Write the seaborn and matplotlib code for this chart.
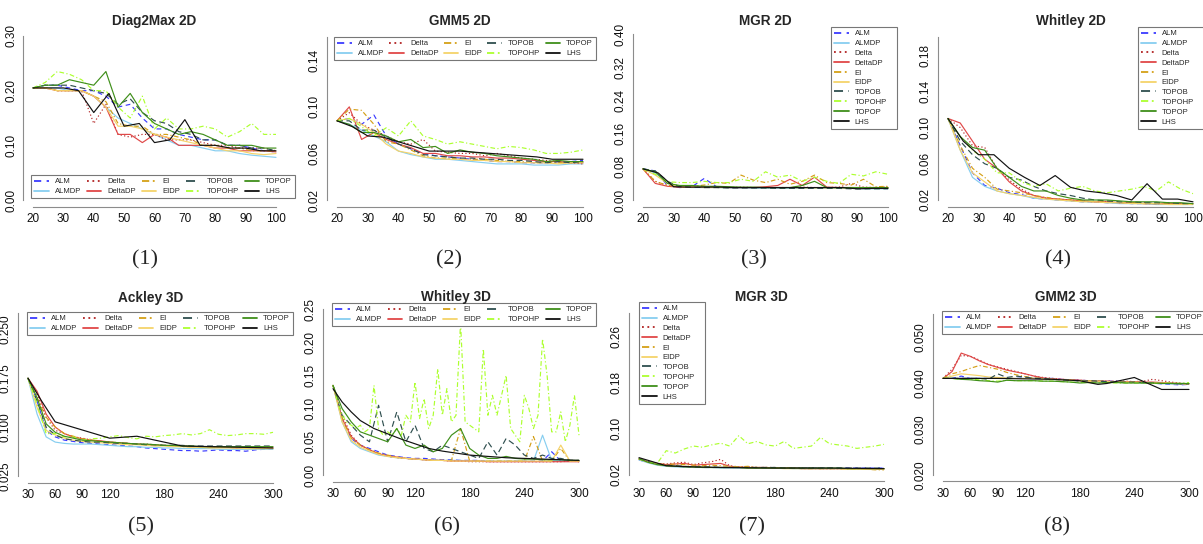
import pandas as pd
import seaborn as sns
import matplotlib
matplotlib.use("Agg")
import matplotlib.pyplot as plt
from matplotlib.lines import Line2D

# ---- series order / style (as in the R legends) ----
methods = ["ALM", "ALMDP", "Delta", "DeltaDP", "EI", "EIDP",
           "TOPOB", "TOPOHP", "TOPOP", "LHS"]
colors = {"ALM": "#3b3bff", "ALMDP": "#87cef0", "Delta": "#b22222",
          "DeltaDP": "#e04848", "EI": "#d4a017", "EIDP": "#f5d36a",
          "TOPOB": "#2f4f4f", "TOPOHP": "#adff2f", "TOPOP": "#3f8f1a",
          "LHS": "#111111"}
dashes = {"ALM": (4, 3), "ALMDP": "", "Delta": (1, 2), "DeltaDP": "",
          "EI": (4, 2, 1, 2), "EIDP": "", "TOPOB": (5, 3),
          "TOPOHP": (4, 2, 1, 2), "TOPOP": "", "LHS": ""}

# ---- x grids ----
x_2d = list(range(20, 101, 4))
x_2d_lhs = list(range(20, 101, 5))
x_3d = list(range(30, 301, 10))

# ---- (1) Diag2Max 2D ----
diag2max_2d = {
    "ALM": [0.205, 0.21, 0.21, 0.205, 0.20, 0.20, 0.19, 0.17, 0.175, 0.15, 0.13, 0.13, 0.12, 0.115, 0.11, 0.11, 0.10, 0.10, 0.095, 0.09, 0.088],
    "ALMDP": [0.205, 0.205, 0.205, 0.20, 0.20, 0.19, 0.17, 0.15, 0.14, 0.13, 0.12, 0.11, 0.10, 0.10, 0.095, 0.09, 0.09, 0.085, 0.082, 0.08, 0.078],
    "Delta": [0.205, 0.205, 0.20, 0.20, 0.20, 0.14, 0.175, 0.12, 0.115, 0.12, 0.12, 0.11, 0.11, 0.11, 0.105, 0.10, 0.10, 0.095, 0.095, 0.095, 0.09],
    "DeltaDP": [0.205, 0.205, 0.20, 0.20, 0.20, 0.19, 0.17, 0.12, 0.12, 0.105, 0.12, 0.115, 0.10, 0.10, 0.10, 0.095, 0.095, 0.09, 0.09, 0.09, 0.088],
    "EI": [0.205, 0.205, 0.20, 0.20, 0.20, 0.19, 0.18, 0.14, 0.135, 0.135, 0.12, 0.12, 0.115, 0.11, 0.10, 0.10, 0.095, 0.095, 0.09, 0.09, 0.09],
    "EIDP": [0.205, 0.205, 0.20, 0.20, 0.20, 0.19, 0.17, 0.135, 0.135, 0.13, 0.12, 0.115, 0.11, 0.105, 0.10, 0.095, 0.09, 0.09, 0.085, 0.083, 0.085],
    "TOPOB": [0.205, 0.21, 0.21, 0.21, 0.205, 0.20, 0.195, 0.175, 0.185, 0.16, 0.145, 0.14, 0.125, 0.12, 0.11, 0.11, 0.10, 0.10, 0.095, 0.095, 0.09],
    "TOPOHP": [0.205, 0.215, 0.235, 0.23, 0.22, 0.20, 0.20, 0.17, 0.15, 0.19, 0.13, 0.15, 0.13, 0.13, 0.135, 0.13, 0.115, 0.125, 0.14, 0.12, 0.12],
    "TOPOP": [0.205, 0.21, 0.21, 0.22, 0.215, 0.21, 0.235, 0.17, 0.195, 0.16, 0.14, 0.13, 0.12, 0.125, 0.12, 0.11, 0.10, 0.10, 0.10, 0.095, 0.095],
    "LHS": [0.205, 0.205, 0.205, 0.20, 0.16, 0.195, 0.135, 0.14, 0.105, 0.11, 0.147, 0.10, 0.10, 0.095, 0.095, 0.09, 0.09],
}

# ---- (2) GMM5 2D ----
gmm5_2d = {
    "ALM": [0.088, 0.09, 0.085, 0.093, 0.075, 0.068, 0.064, 0.06, 0.058, 0.057, 0.056, 0.055, 0.054, 0.053, 0.053, 0.052, 0.052, 0.052, 0.053, 0.053, 0.054],
    "ALMDP": [0.088, 0.085, 0.08, 0.075, 0.07, 0.062, 0.059, 0.057, 0.055, 0.055, 0.054, 0.053, 0.052, 0.051, 0.051, 0.051, 0.050, 0.050, 0.050, 0.051, 0.051],
    "Delta": [0.088, 0.095, 0.085, 0.08, 0.075, 0.07, 0.068, 0.072, 0.062, 0.061, 0.06, 0.06, 0.058, 0.06, 0.058, 0.056, 0.055, 0.054, 0.053, 0.052, 0.051],
    "DeltaDP": [0.088, 0.10, 0.072, 0.078, 0.072, 0.068, 0.065, 0.06, 0.06, 0.058, 0.058, 0.057, 0.057, 0.056, 0.056, 0.055, 0.054, 0.053, 0.053, 0.052, 0.052],
    "EI": [0.088, 0.098, 0.097, 0.085, 0.07, 0.068, 0.063, 0.058, 0.056, 0.056, 0.055, 0.055, 0.055, 0.054, 0.053, 0.053, 0.052, 0.052, 0.052, 0.052, 0.053],
    "EIDP": [0.088, 0.09, 0.085, 0.078, 0.068, 0.062, 0.06, 0.057, 0.056, 0.055, 0.055, 0.054, 0.054, 0.053, 0.053, 0.052, 0.052, 0.052, 0.051, 0.052, 0.052],
    "TOPOB": [0.088, 0.088, 0.08, 0.08, 0.074, 0.068, 0.064, 0.059, 0.058, 0.057, 0.056, 0.056, 0.055, 0.055, 0.054, 0.054, 0.053, 0.052, 0.053, 0.052, 0.053],
    "TOPOHP": [0.088, 0.09, 0.083, 0.075, 0.082, 0.075, 0.088, 0.075, 0.072, 0.068, 0.07, 0.068, 0.066, 0.064, 0.066, 0.065, 0.063, 0.06, 0.06, 0.061, 0.063],
    "TOPOP": [0.088, 0.085, 0.078, 0.078, 0.075, 0.07, 0.072, 0.065, 0.066, 0.06, 0.063, 0.061, 0.06, 0.058, 0.057, 0.056, 0.055, 0.053, 0.054, 0.053, 0.053],
    "LHS": [0.088, 0.083, 0.075, 0.074, 0.07, 0.066, 0.062, 0.062, 0.062, 0.061, 0.06, 0.059, 0.058, 0.057, 0.055, 0.055, 0.055],
}

# ---- (3) MGR 2D ----
mgr_2d = {
    "ALM": [0.075, 0.07, 0.035, 0.03, 0.032, 0.052, 0.032, 0.03, 0.03, 0.03, 0.03, 0.029, 0.029, 0.029, 0.029, 0.029, 0.029, 0.028, 0.028, 0.028, 0.028],
    "ALMDP": [0.075, 0.065, 0.04, 0.032, 0.03, 0.03, 0.03, 0.029, 0.029, 0.028, 0.028, 0.028, 0.028, 0.028, 0.028, 0.028, 0.028, 0.028, 0.027, 0.027, 0.027],
    "Delta": [0.075, 0.045, 0.035, 0.031, 0.031, 0.032, 0.031, 0.03, 0.031, 0.03, 0.03, 0.03, 0.03, 0.031, 0.03, 0.03, 0.031, 0.04, 0.031, 0.03, 0.031],
    "DeltaDP": [0.075, 0.04, 0.033, 0.031, 0.031, 0.031, 0.031, 0.03, 0.03, 0.03, 0.032, 0.035, 0.05, 0.035, 0.055, 0.031, 0.03, 0.03, 0.03, 0.03, 0.03],
    "EI": [0.075, 0.045, 0.035, 0.032, 0.033, 0.036, 0.042, 0.04, 0.06, 0.048, 0.042, 0.05, 0.038, 0.045, 0.06, 0.042, 0.04, 0.036, 0.05, 0.032, 0.033],
    "EIDP": [0.075, 0.06, 0.04, 0.032, 0.031, 0.03, 0.03, 0.03, 0.03, 0.03, 0.03, 0.03, 0.03, 0.029, 0.029, 0.029, 0.029, 0.029, 0.029, 0.029, 0.029],
    "TOPOB": [0.075, 0.07, 0.045, 0.032, 0.031, 0.03, 0.03, 0.029, 0.029, 0.029, 0.029, 0.028, 0.028, 0.028, 0.028, 0.028, 0.028, 0.027, 0.027, 0.027, 0.027],
    "TOPOHP": [0.075, 0.062, 0.044, 0.042, 0.042, 0.045, 0.042, 0.042, 0.05, 0.045, 0.068, 0.055, 0.06, 0.045, 0.055, 0.045, 0.04, 0.062, 0.058, 0.068, 0.062],
    "TOPOP": [0.075, 0.068, 0.04, 0.035, 0.035, 0.033, 0.033, 0.032, 0.031, 0.031, 0.03, 0.03, 0.03, 0.035, 0.045, 0.03, 0.03, 0.03, 0.03, 0.03, 0.03],
    "LHS": [0.075, 0.065, 0.032, 0.031, 0.031, 0.031, 0.03, 0.03, 0.03, 0.03, 0.03, 0.03, 0.03, 0.03, 0.027, 0.028, 0.028],
}

# ---- (4) Whitley 2D ----
whitley_2d = {
    "ALM": [0.11, 0.08, 0.05, 0.036, 0.033, 0.028, 0.026, 0.022, 0.021, 0.02, 0.019, 0.018, 0.018, 0.017, 0.017, 0.016, 0.016, 0.016, 0.016, 0.016, 0.015],
    "ALMDP": [0.11, 0.075, 0.045, 0.035, 0.03, 0.027, 0.025, 0.022, 0.021, 0.02, 0.019, 0.018, 0.018, 0.017, 0.016, 0.016, 0.016, 0.015, 0.015, 0.015, 0.015],
    "Delta": [0.11, 0.10, 0.08, 0.078, 0.055, 0.042, 0.032, 0.025, 0.022, 0.021, 0.02, 0.019, 0.018, 0.018, 0.017, 0.017, 0.017, 0.016, 0.016, 0.016, 0.016],
    "DeltaDP": [0.11, 0.105, 0.085, 0.065, 0.055, 0.04, 0.03, 0.025, 0.022, 0.021, 0.02, 0.019, 0.018, 0.018, 0.017, 0.017, 0.016, 0.016, 0.016, 0.016, 0.016],
    "EI": [0.11, 0.08, 0.055, 0.045, 0.032, 0.03, 0.028, 0.025, 0.023, 0.021, 0.02, 0.019, 0.018, 0.018, 0.017, 0.017, 0.016, 0.016, 0.016, 0.016, 0.016],
    "EIDP": [0.11, 0.075, 0.05, 0.04, 0.03, 0.027, 0.025, 0.023, 0.021, 0.02, 0.019, 0.018, 0.018, 0.017, 0.017, 0.016, 0.016, 0.016, 0.015, 0.015, 0.015],
    "TOPOB": [0.11, 0.085, 0.07, 0.06, 0.055, 0.045, 0.042, 0.035, 0.03, 0.027, 0.025, 0.022, 0.02, 0.019, 0.018, 0.018, 0.017, 0.017, 0.017, 0.016, 0.016],
    "TOPOHP": [0.11, 0.09, 0.075, 0.065, 0.05, 0.05, 0.04, 0.035, 0.038, 0.03, 0.033, 0.035, 0.03, 0.028, 0.03, 0.032, 0.035, 0.03, 0.04, 0.032, 0.027],
    "TOPOP": [0.11, 0.09, 0.078, 0.075, 0.055, 0.045, 0.035, 0.03, 0.03, 0.025, 0.022, 0.02, 0.02, 0.02, 0.019, 0.018, 0.018, 0.018, 0.017, 0.017, 0.016],
    "LHS": [0.11, 0.085, 0.07, 0.07, 0.055, 0.045, 0.036, 0.047, 0.034, 0.03, 0.028, 0.025, 0.02, 0.038, 0.021, 0.021, 0.018],
}

# ---- (5) Ackley 3D ----
ackley_3d_lhs_x = [30, 45, 60, 120, 150, 200, 300]
ackley_3d = {
    "ALM": [0.175, 0.14, 0.095, 0.085, 0.08, 0.078, 0.076, 0.075, 0.074, 0.073, 0.072, 0.071, 0.07, 0.068, 0.067, 0.066, 0.065, 0.064, 0.064, 0.063, 0.064, 0.065, 0.064, 0.064, 0.063, 0.065, 0.066, 0.066],
    "ALMDP": [0.175, 0.12, 0.085, 0.077, 0.075, 0.074, 0.074, 0.074, 0.073, 0.072, 0.071, 0.07, 0.07, 0.069, 0.069, 0.068, 0.068, 0.067, 0.067, 0.067, 0.067, 0.066, 0.066, 0.066, 0.066, 0.066, 0.066, 0.066],
    "Delta": [0.175, 0.15, 0.115, 0.095, 0.09, 0.085, 0.083, 0.08, 0.078, 0.077, 0.076, 0.075, 0.074, 0.074, 0.073, 0.072, 0.071, 0.071, 0.07, 0.07, 0.07, 0.069, 0.069, 0.069, 0.069, 0.068, 0.068, 0.068],
    "DeltaDP": [0.175, 0.155, 0.12, 0.10, 0.09, 0.085, 0.082, 0.08, 0.079, 0.077, 0.076, 0.075, 0.074, 0.073, 0.072, 0.072, 0.071, 0.071, 0.07, 0.07, 0.069, 0.069, 0.069, 0.068, 0.068, 0.068, 0.068, 0.068],
    "EI": [0.175, 0.145, 0.115, 0.10, 0.09, 0.086, 0.082, 0.08, 0.078, 0.077, 0.076, 0.075, 0.074, 0.073, 0.072, 0.072, 0.071, 0.07, 0.07, 0.07, 0.069, 0.069, 0.069, 0.068, 0.068, 0.068, 0.068, 0.068],
    "EIDP": [0.175, 0.13, 0.095, 0.088, 0.083, 0.08, 0.078, 0.077, 0.076, 0.075, 0.074, 0.073, 0.073, 0.072, 0.071, 0.071, 0.07, 0.07, 0.069, 0.069, 0.068, 0.068, 0.068, 0.068, 0.067, 0.067, 0.067, 0.067],
    "TOPOB": [0.175, 0.14, 0.10, 0.088, 0.082, 0.08, 0.078, 0.077, 0.077, 0.076, 0.075, 0.075, 0.074, 0.073, 0.073, 0.072, 0.072, 0.072, 0.071, 0.071, 0.071, 0.071, 0.071, 0.071, 0.071, 0.071, 0.071, 0.071],
    "TOPOHP": [0.175, 0.135, 0.09, 0.09, 0.085, 0.085, 0.08, 0.082, 0.083, 0.085, 0.087, 0.084, 0.082, 0.086, 0.085, 0.087, 0.088, 0.09, 0.088, 0.09, 0.096, 0.089, 0.087, 0.088, 0.09, 0.09, 0.089, 0.092],
    "TOPOP": [0.175, 0.145, 0.105, 0.092, 0.086, 0.083, 0.08, 0.079, 0.078, 0.077, 0.076, 0.075, 0.074, 0.074, 0.073, 0.072, 0.072, 0.071, 0.071, 0.07, 0.07, 0.07, 0.07, 0.07, 0.07, 0.07, 0.07, 0.07],
    "LHS": [0.175, 0.14, 0.108, 0.083, 0.086, 0.071, 0.068],
}

# ---- (6) Whitley 3D ----
whitley_3d_lhs_x = [30, 40, 50, 60, 75, 90, 105, 120, 135, 150, 165, 180, 200, 220, 240, 260, 280, 300]
whitley_3d_topohp_x = list(range(30, 301, 5))
whitley_3d = {
    "ALM": [0.135, 0.085, 0.055, 0.045, 0.04, 0.035, 0.03, 0.028, 0.026, 0.025, 0.025, 0.024, 0.023, 0.023, 0.022, 0.022, 0.022, 0.021, 0.021, 0.021, 0.021, 0.021, 0.021, 0.021, 0.035, 0.021, 0.021, 0.021],
    "ALMDP": [0.135, 0.08, 0.05, 0.04, 0.035, 0.03, 0.028, 0.026, 0.025, 0.024, 0.023, 0.023, 0.022, 0.022, 0.022, 0.021, 0.021, 0.021, 0.021, 0.021, 0.021, 0.021, 0.021, 0.06, 0.022, 0.021, 0.021, 0.021],
    "Delta": [0.135, 0.09, 0.06, 0.045, 0.038, 0.032, 0.028, 0.026, 0.025, 0.024, 0.023, 0.022, 0.022, 0.021, 0.021, 0.02, 0.02, 0.02, 0.02, 0.02, 0.02, 0.02, 0.02, 0.02, 0.02, 0.02, 0.021, 0.02],
    "DeltaDP": [0.135, 0.085, 0.058, 0.045, 0.038, 0.032, 0.029, 0.027, 0.025, 0.024, 0.023, 0.022, 0.022, 0.021, 0.021, 0.021, 0.021, 0.02, 0.02, 0.02, 0.02, 0.02, 0.02, 0.02, 0.02, 0.02, 0.02, 0.02],
    "EI": [0.135, 0.085, 0.055, 0.045, 0.038, 0.033, 0.03, 0.027, 0.025, 0.024, 0.023, 0.022, 0.022, 0.022, 0.07, 0.021, 0.021, 0.021, 0.021, 0.021, 0.021, 0.021, 0.058, 0.021, 0.021, 0.04, 0.021, 0.021],
    "EIDP": [0.135, 0.08, 0.052, 0.042, 0.036, 0.031, 0.028, 0.026, 0.025, 0.024, 0.023, 0.022, 0.022, 0.021, 0.021, 0.021, 0.021, 0.021, 0.021, 0.021, 0.021, 0.021, 0.021, 0.021, 0.021, 0.045, 0.021, 0.021],
    "TOPOB": [0.135, 0.09, 0.075, 0.06, 0.05, 0.105, 0.05, 0.095, 0.05, 0.075, 0.04, 0.035, 0.045, 0.04, 0.035, 0.03, 0.025, 0.05, 0.03, 0.055, 0.045, 0.03, 0.025, 0.03, 0.025, 0.025, 0.022, 0.022],
    "TOPOHP": [0.135, 0.11, 0.09, 0.08, 0.075, 0.07, 0.075, 0.065, 0.07, 0.135,
               0.07, 0.06, 0.065, 0.06, 0.07, 0.06, 0.09, 0.08, 0.14, 0.085,
               0.115, 0.07, 0.09, 0.16, 0.09, 0.13, 0.08, 0.09, 0.23, 0.08,
               0.075, 0.07, 0.065, 0.19, 0.09, 0.12, 0.09, 0.12, 0.15, 0.07,
               0.06, 0.05, 0.12, 0.10, 0.07, 0.09, 0.205, 0.15, 0.065, 0.065,
               0.095, 0.05, 0.075, 0.12, 0.06],
    "TOPOP": [0.135, 0.10, 0.08, 0.065, 0.06, 0.055, 0.05, 0.07, 0.045, 0.04, 0.045, 0.035, 0.04, 0.06, 0.07, 0.04, 0.03, 0.025, 0.025, 0.028, 0.025, 0.024, 0.024, 0.023, 0.023, 0.023, 0.022, 0.022],
    "LHS": [0.13, 0.11, 0.095, 0.082, 0.07, 0.062, 0.054, 0.047, 0.04, 0.036, 0.033, 0.03, 0.028, 0.026, 0.025, 0.024, 0.023, 0.022],
}

# ---- (7) MGR 3D ----
mgr_3d_lhs_x = [30, 60, 90, 120, 180, 240, 300]
mgr_3d = {
    "ALM": [0.046, 0.042, 0.038, 0.036, 0.035, 0.034, 0.034, 0.033, 0.033, 0.033, 0.033, 0.033, 0.032, 0.032, 0.032, 0.032, 0.032, 0.032, 0.032, 0.032, 0.032, 0.032, 0.032, 0.032, 0.032, 0.032, 0.032, 0.032],
    "ALMDP": [0.046, 0.041, 0.037, 0.035, 0.034, 0.034, 0.033, 0.033, 0.033, 0.032, 0.032, 0.032, 0.032, 0.032, 0.032, 0.032, 0.032, 0.031, 0.031, 0.031, 0.031, 0.031, 0.031, 0.031, 0.031, 0.031, 0.031, 0.031],
    "Delta": [0.048, 0.043, 0.04, 0.039, 0.041, 0.042, 0.038, 0.041, 0.043, 0.047, 0.036, 0.034, 0.034, 0.033, 0.033, 0.033, 0.032, 0.032, 0.032, 0.032, 0.031, 0.031, 0.031, 0.031, 0.031, 0.031, 0.03, 0.03],
    "DeltaDP": [0.048, 0.043, 0.04, 0.038, 0.039, 0.04, 0.037, 0.038, 0.039, 0.04, 0.035, 0.034, 0.033, 0.033, 0.033, 0.032, 0.032, 0.032, 0.031, 0.031, 0.031, 0.031, 0.031, 0.031, 0.031, 0.03, 0.03, 0.03],
    "EI": [0.048, 0.042, 0.039, 0.038, 0.039, 0.038, 0.037, 0.036, 0.037, 0.036, 0.035, 0.034, 0.035, 0.033, 0.033, 0.032, 0.032, 0.032, 0.031, 0.031, 0.031, 0.031, 0.031, 0.03, 0.03, 0.03, 0.029, 0.029],
    "EIDP": [0.047, 0.042, 0.038, 0.036, 0.035, 0.035, 0.034, 0.034, 0.033, 0.033, 0.033, 0.033, 0.032, 0.032, 0.032, 0.032, 0.031, 0.031, 0.031, 0.031, 0.031, 0.031, 0.031, 0.03, 0.03, 0.03, 0.03, 0.03],
    "TOPOB": [0.048, 0.043, 0.039, 0.037, 0.036, 0.035, 0.034, 0.034, 0.034, 0.033, 0.033, 0.033, 0.033, 0.033, 0.033, 0.033, 0.032, 0.032, 0.032, 0.032, 0.032, 0.032, 0.032, 0.032, 0.032, 0.032, 0.032, 0.032],
    "TOPOHP": [0.048, 0.042, 0.04, 0.062, 0.058, 0.065, 0.07, 0.068, 0.072, 0.075, 0.07, 0.088, 0.074, 0.078, 0.072, 0.07, 0.078, 0.066, 0.068, 0.07, 0.085, 0.074, 0.072, 0.07, 0.066, 0.068, 0.07, 0.073],
    "TOPOP": [0.048, 0.042, 0.038, 0.036, 0.035, 0.034, 0.034, 0.033, 0.033, 0.033, 0.033, 0.033, 0.032, 0.032, 0.032, 0.032, 0.032, 0.032, 0.032, 0.032, 0.032, 0.032, 0.032, 0.031, 0.031, 0.031, 0.031, 0.031],
    "LHS": [0.05, 0.036, 0.034, 0.033, 0.032, 0.032, 0.031],
}

# ---- (8) GMM2 3D ----
gmm2_3d_lhs_x = [30, 90, 150, 180, 200, 210, 240, 270, 300]
gmm2_3d = {
    "ALM": [0.041, 0.041, 0.0415, 0.041, 0.041, 0.041, 0.041, 0.041, 0.041, 0.0412, 0.041, 0.041, 0.041, 0.0408, 0.0407, 0.0406, 0.0405, 0.0405, 0.0404, 0.0404, 0.0403, 0.0402, 0.0401, 0.04, 0.0398, 0.0397, 0.0396, 0.0397],
    "ALMDP": [0.041, 0.041, 0.041, 0.041, 0.041, 0.041, 0.041, 0.041, 0.041, 0.041, 0.041, 0.0409, 0.0408, 0.0407, 0.0406, 0.0405, 0.0405, 0.0404, 0.0403, 0.0403, 0.0402, 0.0401, 0.04, 0.04, 0.0399, 0.0398, 0.0398, 0.0398],
    "Delta": [0.041, 0.043, 0.046, 0.0458, 0.045, 0.044, 0.0435, 0.043, 0.0425, 0.042, 0.0415, 0.0412, 0.041, 0.0408, 0.0407, 0.0406, 0.0405, 0.0405, 0.0404, 0.0404, 0.0404, 0.0403, 0.0404, 0.0408, 0.0405, 0.0402, 0.04, 0.0398],
    "DeltaDP": [0.041, 0.0425, 0.0465, 0.0458, 0.0448, 0.044, 0.0434, 0.0428, 0.0424, 0.042, 0.0415, 0.0411, 0.0409, 0.0408, 0.0407, 0.0406, 0.0405, 0.0404, 0.0404, 0.0403, 0.0403, 0.0403, 0.0402, 0.0402, 0.0401, 0.04, 0.0399, 0.0398],
    "EI": [0.041, 0.042, 0.0425, 0.0432, 0.0438, 0.0434, 0.043, 0.0423, 0.0418, 0.0414, 0.0411, 0.041, 0.0408, 0.0407, 0.0406, 0.0405, 0.0405, 0.0404, 0.0403, 0.0403, 0.0402, 0.0402, 0.0401, 0.04, 0.04, 0.0399, 0.0398, 0.0398],
    "EIDP": [0.041, 0.0415, 0.042, 0.0418, 0.0416, 0.0413, 0.0412, 0.0411, 0.041, 0.041, 0.041, 0.0409, 0.0408, 0.0407, 0.0406, 0.0405, 0.0404, 0.0404, 0.0403, 0.0403, 0.0402, 0.0402, 0.0401, 0.04, 0.04, 0.0399, 0.0399, 0.0398],
    "TOPOB": [0.041, 0.041, 0.041, 0.041, 0.041, 0.0408, 0.042, 0.0412, 0.0415, 0.0413, 0.041, 0.041, 0.0408, 0.0407, 0.0406, 0.0404, 0.0405, 0.0404, 0.0403, 0.0402, 0.0402, 0.0402, 0.0401, 0.04, 0.0399, 0.0399, 0.0398, 0.0398],
    "TOPOHP": [0.041, 0.041, 0.0408, 0.0408, 0.0407, 0.0405, 0.0404, 0.0406, 0.0405, 0.0405, 0.0405, 0.0404, 0.0404, 0.0403, 0.0402, 0.0401, 0.0401, 0.04, 0.0401, 0.04, 0.04, 0.04, 0.04, 0.0399, 0.0399, 0.04, 0.0399, 0.0401],
    "TOPOP": [0.041, 0.041, 0.0408, 0.0407, 0.0405, 0.0404, 0.0402, 0.0406, 0.0405, 0.0405, 0.0405, 0.0404, 0.0404, 0.0403, 0.0402, 0.04, 0.0401, 0.04, 0.0401, 0.0401, 0.04, 0.04, 0.04, 0.04, 0.0399, 0.0399, 0.0399, 0.0399],
    "LHS": [0.041, 0.041, 0.0408, 0.0405, 0.0397, 0.0399, 0.0412, 0.0386, 0.0386],
}

# ---- layout (pixel positions measured on the 1203x544 reference) ----
W, H = 1203, 544
top_xticks = list(range(20, 101, 5))
top_xlabels = [str(v) if v % 10 == 0 else "" for v in top_xticks]
bot_xticks = list(range(30, 301, 30))
bot_xlabels = [str(v) if v in (30, 60, 90, 120, 180, 240, 300) else "" for v in bot_xticks]


def yticks(lo, hi, step, every, fmt):
    n = int(round((hi - lo) / step)) + 1
    vals = [lo + i * step for i in range(n)]
    labs = [fmt % v if i % every == 0 else "" for i, v in enumerate(vals)]
    return vals, labs


panels = [
    dict(title="Diag2Max 2D", tag="(1)", data=diag2max_2d, x=x_2d, own={"LHS": x_2d_lhs},
         xt=(top_xticks, top_xlabels), yt=yticks(0.0, 0.30, 0.05, 2, "%.2f"),
         px=(33, 276, 36, 200), ty=21, tag_xy=(145, 260),
         leg=dict(box=(31, 175, 264), ncol=5)),
    dict(title="GMM5 2D", tag="(2)", data=gmm5_2d, x=x_2d, own={"LHS": x_2d_lhs},
         xt=(top_xticks, top_xlabels), yt=yticks(0.02, 0.16, 0.02, 2, "%.2f"),
         px=(337, 583, 37, 200), ty=21, tag_xy=(449, 260),
         leg=dict(box=(334, 37, 262), ncol=5)),
    dict(title="MGR 2D", tag="(3)", data=mgr_2d, x=x_2d, own={"LHS": x_2d_lhs},
         xt=(top_xticks, top_xlabels), yt=yticks(0.0, 0.40, 0.04, 2, "%.2f"),
         px=(643, 888, 34, 200), ty=21, tag_xy=(754, 260),
         leg=dict(box=(831, 27, 66), ncol=1)),
    dict(title="Whitley 2D", tag="(4)", data=whitley_2d, x=x_2d, own={"LHS": x_2d_lhs},
         xt=(top_xticks, top_xlabels), yt=yticks(0.02, 0.20, 0.02, 2, "%.2f"),
         px=(948, 1193, 37, 200), ty=21, tag_xy=(1058, 260),
         leg=dict(box=(1138, 27, 66), ncol=1)),
    dict(title="Ackley 3D", tag="(5)", data=ackley_3d, x=x_3d, own={"LHS": ackley_3d_lhs_x},
         xt=(bot_xticks, bot_xlabels), yt=yticks(0.025, 0.275, 0.025, 3, "%.3f"),
         px=(28, 273, 313, 476), ty=298, tag_xy=(141, 527),
         leg=dict(box=(27, 312, 266), ncol=5)),
    dict(title="Whitley 3D", tag="(6)", data=whitley_3d, x=x_3d,
         own={"LHS": whitley_3d_lhs_x, "TOPOHP": whitley_3d_topohp_x},
         xt=(bot_xticks, bot_xlabels), yt=yticks(0.0, 0.25, 0.05, 1, "%.2f"),
         px=(333, 579, 309, 475), ty=297, tag_xy=(447, 527),
         leg=dict(box=(332, 303, 264), ncol=5)),
    dict(title="MGR 3D", tag="(7)", data=mgr_3d, x=x_3d, own={"LHS": mgr_3d_lhs_x},
         xt=(bot_xticks, bot_xlabels), yt=yticks(0.02, 0.30, 0.04, 2, "%.2f"),
         px=(639, 884, 313, 475), ty=297, tag_xy=(752, 527),
         leg=dict(box=(639, 302, 66), ncol=1)),
    dict(title="GMM2 3D", tag="(8)", data=gmm2_3d, x=x_3d, own={"LHS": gmm2_3d_lhs_x},
         xt=(bot_xticks, bot_xlabels), yt=yticks(0.020, 0.055, 0.005, 2, "%.3f"),
         px=(943, 1189, 314, 475), ty=297, tag_xy=(1057, 527),
         leg=dict(box=(942, 311, 264), ncol=5)),
]

sns.set_style("white")
plt.rcParams["font.family"] = ["Liberation Sans", "DejaVu Sans"]
axis_grey = "#8c8c8c"

fig = plt.figure(figsize=(W / 100, H / 100), dpi=100)

for p in panels:
    xa, xb, yt_px, yb_px = p["px"]
    xticks, xlabels = p["xt"]
    yvals, ylabels = p["yt"]
    # R pads the axis range by 4% on each side
    dx = 0.04 * (xb - xa)
    dy = 0.04 * (yb_px - yt_px)
    left, right = xa - dx, xb + dx
    top, bottom = yt_px - dy, yb_px + dy
    ax = fig.add_axes([left / W, 1 - bottom / H, (right - left) / W, (bottom - top) / H])

    rows = []
    for m in methods:
        xs = p["own"].get(m, p["x"])
        for xv, yv in zip(xs, p["data"][m]):
            rows.append((m, xv, yv))
    df = pd.DataFrame(rows, columns=["method", "x", "y"])

    sns.lineplot(data=df, x="x", y="y", hue="method", style="method",
                 hue_order=methods, style_order=methods, palette=colors,
                 dashes=dashes, estimator=None, sort=False, legend=False,
                 linewidth=0.85, ax=ax)

    x0, x1 = xticks[0], xticks[-1]
    y0, y1 = yvals[0], yvals[-1]
    ax.set_xlim(x0 - 0.04 * (x1 - x0), x1 + 0.04 * (x1 - x0))
    ax.set_ylim(y0 - 0.04 * (y1 - y0), y1 + 0.04 * (y1 - y0))
    ax.set_xticks(xticks)
    ax.set_xticklabels(xlabels)
    ax.set_yticks(yvals)
    ax.set_yticklabels(ylabels, rotation=90, va="center")
    ax.set_xlabel("")
    ax.set_ylabel("")
    ax.patch.set_alpha(0)
    for s in ("top", "right"):
        ax.spines[s].set_visible(False)
    ax.spines["left"].set_bounds(y0, y1)
    ax.spines["bottom"].set_bounds(x0, x1)
    for s in ("left", "bottom"):
        ax.spines[s].set_color(axis_grey)
        ax.spines[s].set_linewidth(0.8)
    ax.tick_params(axis="both", direction="out", length=3, width=0.8,
                   color=axis_grey, labelsize=8.5, labelcolor="#111111", pad=1.5)

    cx = (left + right) / 2
    fig.text(cx / W, 1 - p["ty"] / H, p["title"], ha="center", va="center",
             fontsize=9.8, fontweight="bold")
    fig.text(p["tag_xy"][0] / W, 1 - p["tag_xy"][1] / H, p["tag"], ha="center",
             va="center", fontsize=16, family=["Liberation Serif", "DejaVu Serif"])

    handles = []
    for m in methods:
        d = dashes[m]
        h = Line2D([], [], color=colors[m], linewidth=1.3)
        if d:
            h.set_dashes(d)
        handles.append(h)
    lx, ly, lw = p["leg"]["box"]
    leg = ax.legend(handles, methods, ncol=p["leg"]["ncol"], loc="upper left",
                    bbox_to_anchor=(lx / W, 1 - ly / H, lw / W, 0),
                    bbox_transform=fig.transFigure, mode="expand",
                    fontsize=5.5, labelspacing=0.32, borderpad=0.4,
                    handlelength=1.9, handletextpad=0.8, borderaxespad=0,
                    columnspacing=0.5, fancybox=False, framealpha=1,
                    edgecolor="#777777")
    leg.get_frame().set_linewidth(0.8)
    leg.set_zorder(5)

fig.savefig("out.png", dpi=100)
